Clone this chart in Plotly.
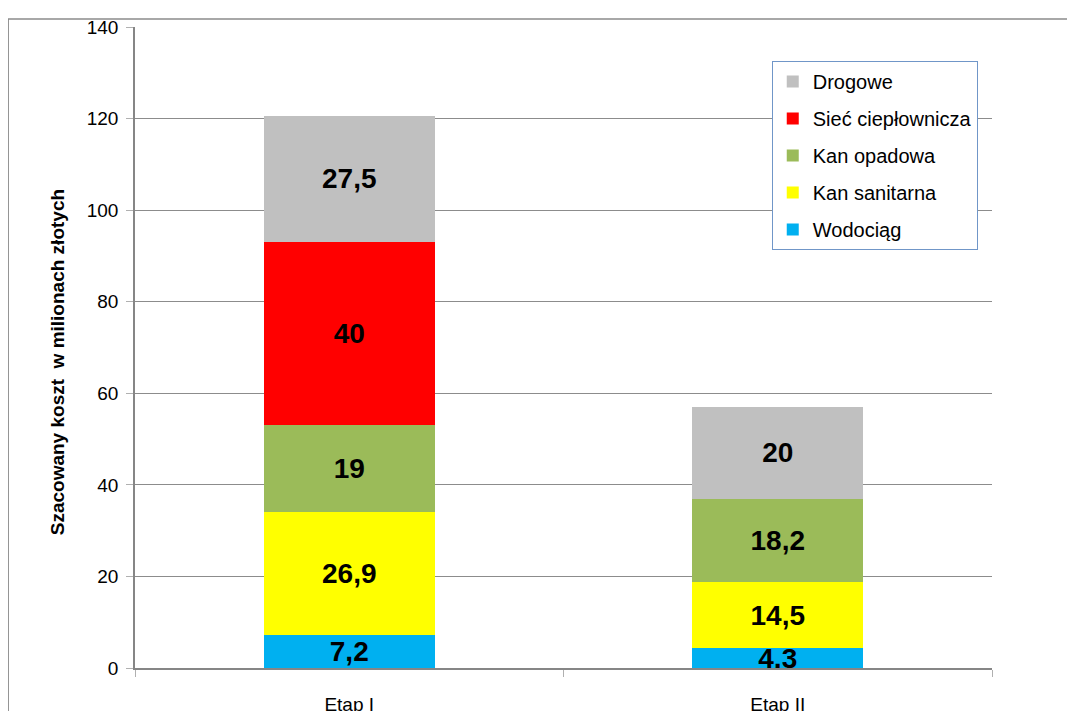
import plotly.graph_objects as go

categories = ["Etap I", "Etap II"]
series_names = ["Wodociąg", "Kan sanitarna", "Kan opadowa", "Sieć ciepłownicza", "Drogowe"]
wodociag = [7.2, 4.3]
kan_sanitarna = [26.9, 14.5]
kan_opadowa = [19, 18.2]
siec_cieplownicza = [40, None]
drogowe = [27.5, 20]
colors = ["#00B0F0", "#FFFF00", "#9BBB59", "#FF0000", "#C0C0C0"]
y_ticks = [0, 20, 40, 60, 80, 100, 120, 140]
y_title = "Szacowany koszt  w milionach złotych"

series_values = [wodociag, kan_sanitarna, kan_opadowa, siec_cieplownicza, drogowe]

FONT = "Liberation Sans, Arial, sans-serif"


def fmt(v):
    if v is None:
        return ""
    return ("%g" % v).replace(".", ",")


fig = go.Figure()
n = len(series_names)
for i, (name, vals, col) in enumerate(zip(series_names, series_values, colors)):
    fig.add_trace(go.Bar(
        x=categories, y=vals, name=name, marker=dict(color=col, line=dict(width=0)),
        text=[fmt(v) for v in vals], textposition="inside", insidetextanchor="middle",
        textfont=dict(family=FONT, size=28, color="black", weight="bold"),
        constraintext="none", legendgroup="g%d" % i, legendrank=n - i, width=0.4,
        hoverinfo="skip",
    ))

# page body has an 8px margin: figure coords = screenshot coords - 8
fig.update_layout(
    barmode="stack",
    width=1067, height=703,
    margin=dict(l=127, r=83, t=19, b=43, autoexpand=False),
    paper_bgcolor="white", plot_bgcolor="white",
    font=dict(family=FONT, color="black", size=19),
    uniformtext=dict(minsize=28, mode="show"),
    showlegend=True,
    legend=dict(
        x=0.743, y=0.947, xanchor="left", yanchor="top",
        traceorder="grouped", tracegroupgap=8,
        bordercolor="#7096C8", borderwidth=1, bgcolor="white",
        font=dict(size=20, family=FONT),
        itemwidth=30,
    ),
    xaxis=dict(
        showline=True, linecolor="#868686", linewidth=1.5,
        ticks="outside", tickson="boundaries", ticklen=7, tickcolor="#B0B0B0",
        ticklabelstandoff=18, tickfont=dict(size=19), automargin=False,
    ),
    yaxis=dict(
        range=[0, 140], tickvals=y_ticks, showgrid=True, gridcolor="#8C8C8C", gridwidth=1,
        showline=True, linecolor="#868686", linewidth=1.5,
        ticks="outside", ticklen=7, tickcolor="#B0B0B0", ticklabelstandoff=4,
        tickfont=dict(size=19), zeroline=False, automargin=False,
    ),
    annotations=[dict(
        text=y_title, textangle=-90, xref="paper", yref="paper",
        x=-0.091, y=0.477, xanchor="center", yanchor="middle", showarrow=False,
        font=dict(size=19, family=FONT, weight="bold"),
    )],
    shapes=[dict(type="rect", xref="paper", yref="paper",
                 x0=-0.148, x1=1.103, y0=-0.09, y1=1.0125,
                 line=dict(color="#8C8C8C", width=1.5), layer="below")],
)

fig.write_html("out.html")
